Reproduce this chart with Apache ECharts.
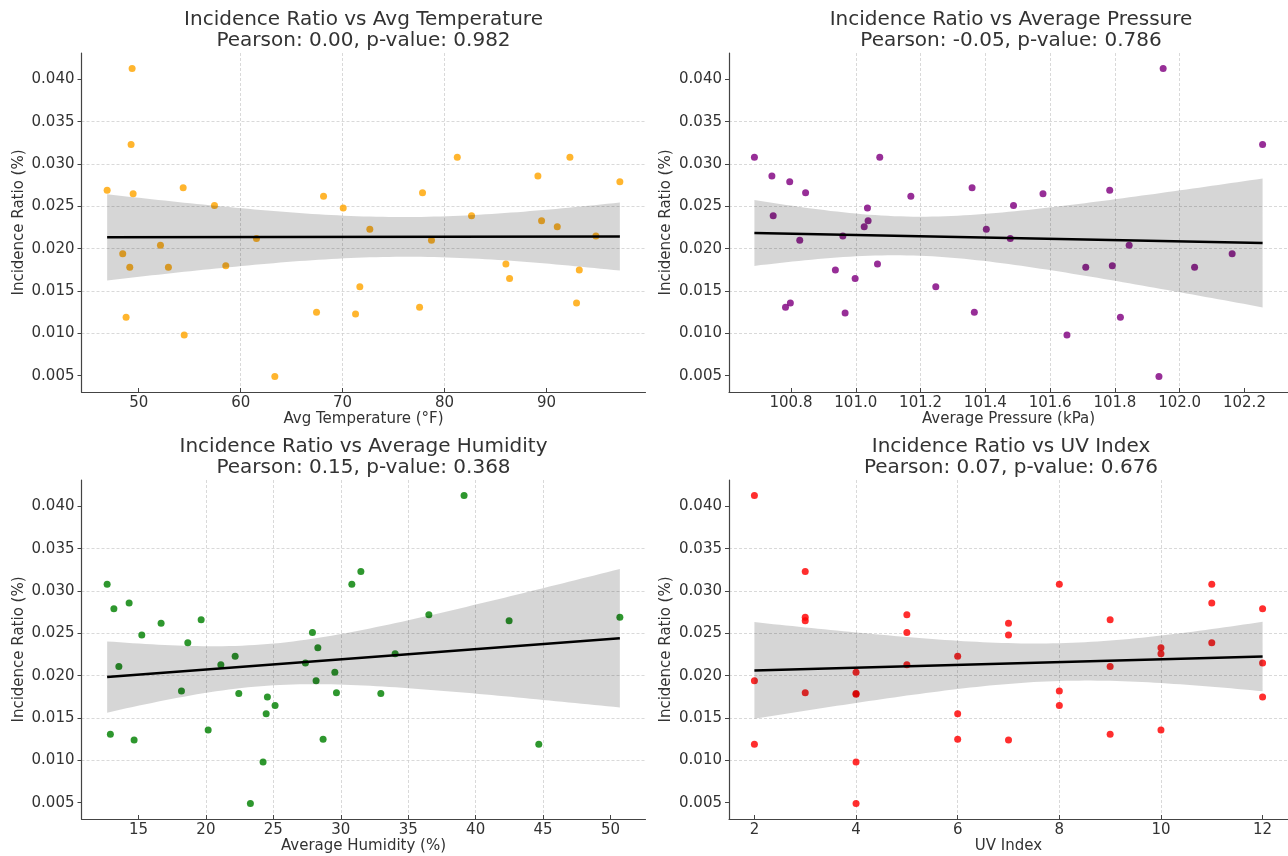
<!DOCTYPE html>
<html><head><meta charset="utf-8">
<script src="https://cdn.jsdelivr.net/npm/echarts@6/dist/echarts.min.js"></script>
<style>html,body{margin:0;padding:0;background:#fff}#c{width:1288px;height:856px}</style>
</head><body><div id="c"></div>
<script>
// ---- data ----
const tempX = [49.35,49.25,46.9,49.45,54.36,57.43,68.13,70.06,72.67,61.55,52.13,48.43,49.12,52.91,58.54,71.69,48.76,67.44,71.27,54.46,63.35,81.25,92.3,89.16,97.2,77.84,82.65,89.52,91.06,78.72,94.85,86.02,93.22,86.38,77.55,92.95];
const tempY = [0.0413,0.0323,0.0269,0.0265,0.0272,0.0251,0.0262,0.0248,0.0223,0.0212,0.0204,0.0194,0.0178,0.0178,0.0180,0.0155,0.0119,0.0125,0.0123,0.0098,0.0049,0.0308,0.0308,0.0286,0.0279,0.0266,0.0239,0.0233,0.0226,0.0210,0.0215,0.0182,0.0175,0.0165,0.0131,0.0136];
const pressX = [100.687,100.741,100.796,100.845,101.074,101.170,101.359,100.745,101.036,101.038,101.026,101.403,100.827,100.960,100.937,101.067,100.998,101.247,100.783,100.798,100.967,101.366,101.949,102.256,101.578,101.487,101.784,101.477,101.844,101.710,101.792,102.046,102.162,101.817,101.652,101.936];
const pressY = [0.0308,0.0286,0.0279,0.0266,0.0308,0.0262,0.0272,0.0239,0.0248,0.0233,0.0226,0.0223,0.0210,0.0215,0.0175,0.0182,0.0165,0.0155,0.0131,0.0136,0.0124,0.0125,0.0413,0.0323,0.0265,0.0251,0.0269,0.0212,0.0204,0.0178,0.0180,0.0178,0.0194,0.0119,0.0098,0.0049];
const humX = [12.68,13.18,14.31,16.68,19.65,15.25,18.66,13.55,21.11,22.17,27.9,28.3,27.38,29.56,28.17,18.19,22.44,24.56,29.68,25.13,24.47,12.92,14.68,20.17,28.69,24.24,23.3,30.82,31.49,39.14,36.53,42.48,50.69,34.03,32.97,44.68];
const humY = [0.0308,0.0279,0.0286,0.0262,0.0266,0.0248,0.0239,0.0211,0.0213,0.0223,0.0251,0.0233,0.0215,0.0204,0.0194,0.0182,0.0179,0.0175,0.0180,0.0165,0.0155,0.0131,0.0124,0.0136,0.0125,0.0098,0.0049,0.0308,0.0323,0.0413,0.0272,0.0265,0.0269,0.0226,0.0179,0.0119];
const uvX = [2,2,2,3,3,3,3,4,4,4,4,4,5,5,5,6,6,6,7,7,7,8,8,8,9,9,9,10,10,10,11,11,11,12,12,12];
const uvY = [0.0413,0.0194,0.0119,0.0323,0.0269,0.0265,0.0180,0.0204,0.0179,0.0178,0.0098,0.0049,0.0272,0.0251,0.0213,0.0223,0.0155,0.0125,0.0262,0.0248,0.0124,0.0308,0.0182,0.0165,0.0266,0.0211,0.0131,0.0233,0.0226,0.0136,0.0308,0.0286,0.0239,0.0279,0.0215,0.0175];

const yTicks = [0.005,0.010,0.015,0.020,0.025,0.030,0.035,0.040];
const tempTicks = [50,60,70,80,90];
const pressTicks = [100.8,101.0,101.2,101.4,101.6,101.8,102.0,102.2];
const humTicks = [15,20,25,30,35,40,45,50];
const uvTicks = [2,4,6,8,10,12];

const titles = [
  'Incidence Ratio vs Avg Temperature\nPearson: 0.00, p-value: 0.982',
  'Incidence Ratio vs Average Pressure\nPearson: -0.05, p-value: 0.786',
  'Incidence Ratio vs Average Humidity\nPearson: 0.15, p-value: 0.368',
  'Incidence Ratio vs UV Index\nPearson: 0.07, p-value: 0.676'
];
const xNames = ['Avg Temperature (°F)','Average Pressure (kPa)','Average Humidity (%)','UV Index'];
const colors = ['#FFA500','#800080','#008000','#FF0000'];

// ---- helpers ----
// OLS fit with a heteroscedasticity-robust (HC1) 95% confidence band of the mean
function fit(xs, ys){
  const n = xs.length;
  const mx = xs.reduce((a,b)=>a+b,0)/n, my = ys.reduce((a,b)=>a+b,0)/n;
  let sxx=0, sxy=0;
  for (let i=0;i<n;i++){ sxx += (xs[i]-mx)**2; sxy += (xs[i]-mx)*(ys[i]-my); }
  const b = sxy/sxx, a = my - b*mx;
  let m00=0, m01=0, m11=0;
  for (let i=0;i<n;i++){
    const e = ys[i]-a-b*xs[i], d = xs[i]-mx;
    m00 += e*e; m01 += e*e*d; m11 += e*e*d*d;
  }
  const c = n/(n-2);
  const v00 = c*m00/(n*n), v01 = c*m01/(n*sxx), v11 = c*m11/(sxx*sxx);
  const t = 2.032;
  const x0 = Math.min(...xs), x1 = Math.max(...xs);
  const band = [];
  const N = 80;
  for (let k=0;k<=N;k++){
    const x = x0 + (x1-x0)*k/N;
    const d = x - mx;
    const yh = a + b*x;
    const h = t*Math.sqrt(v00 + 2*d*v01 + d*d*v11);
    band.push([x, yh-h, yh+h]);
  }
  return {line: [[x0, a+b*x0],[x1, a+b*x1]], band};
}
function ext(arr){
  const lo = Math.min(...arr), hi = Math.max(...arr), m = (hi-lo)*0.05;
  return [lo-m, hi+m];
}

const panels = [
  {x: tempX, y: tempY, ticks: tempTicks, fmt: v=>String(v)},
  {x: pressX, y: pressY, ticks: pressTicks, fmt: v=>v.toFixed(1)},
  {x: humX, y: humY, ticks: humTicks, fmt: v=>String(v)},
  {x: uvX, y: uvY, ticks: uvTicks, fmt: v=>String(v)}
];
const gridPos = [
  {left: 81.5, top: 53},
  {left: 729, top: 53},
  {left: 81.5, top: 480},
  {left: 729, top: 480}
];
const W = 564, H = 339;
const FONT = 'DejaVu Sans';
const TXT = '#333333';

const grid=[], xAxis=[], yAxis=[], series=[], graphic=[];
panels.forEach((p, i) => {
  grid.push({left: gridPos[i].left, top: gridPos[i].top, width: W, height: H, containLabel: false});
  const xe = ext(p.x), ye = ext(p.y);
  xAxis.push({
    type: 'value', gridIndex: i, min: xe[0], max: xe[1],
    name: xNames[i], nameLocation: 'middle', nameGap: 19,
    nameTextStyle: {fontFamily: FONT, fontSize: 15, color: TXT},
    axisLine: {show: true, onZero: false, lineStyle: {color: '#444', width: 1.2}},
    axisTick: {show: true, inside: true, length: 4, customValues: p.ticks, lineStyle: {color: '#444'}},
    axisLabel: {customValues: p.ticks, formatter: p.fmt, margin: 4, fontFamily: FONT, fontSize: 15, color: TXT},
    splitLine: {show: true, customValues: p.ticks, showMinLine: false, showMaxLine: false, lineStyle: {color: '#cfcfcf', type: [3,2], width: 0.8}}
  });
  yAxis.push({
    type: 'value', gridIndex: i, min: ye[0], max: ye[1],
    name: 'Incidence Ratio (%)', nameLocation: 'middle', nameGap: 55, nameRotate: 90,
    nameTextStyle: {fontFamily: FONT, fontSize: 15, color: TXT},
    axisLine: {show: true, onZero: false, lineStyle: {color: '#444', width: 1.2}},
    axisTick: {show: true, inside: false, length: 4, customValues: yTicks, lineStyle: {color: '#444'}},
    axisLabel: {customValues: yTicks, formatter: v=>v.toFixed(3), margin: 7, fontFamily: FONT, fontSize: 15, color: TXT},
    splitLine: {show: true, customValues: yTicks, showMinLine: false, showMaxLine: false, lineStyle: {color: '#cfcfcf', type: [3,2], width: 0.8}}
  });
  const pts = p.x.map((v, k) => [v, p.y[k]]);
  series.push({
    type: 'scatter', xAxisIndex: i, yAxisIndex: i, data: pts, symbolSize: 7, z: 2,
    itemStyle: {color: colors[i], opacity: 0.82}, silent: true
  });
  const f = fit(p.x, p.y);
  const band = f.band;
  series.push({
    type: 'custom', xAxisIndex: i, yAxisIndex: i, z: 3, silent: true,
    data: band, encode: {x: 0, y: [1, 2]},
    renderItem: function(params, api){
      if (params.dataIndex !== 0) return null;
      const poly = [];
      for (let k=0;k<band.length;k++) poly.push(api.coord([band[k][0], band[k][2]]));
      for (let k=band.length-1;k>=0;k--) poly.push(api.coord([band[k][0], band[k][1]]));
      return {type: 'polygon', shape: {points: poly}, style: {fill: 'rgba(0,0,0,0.16)'}};
    }
  });
  series.push({
    type: 'line', xAxisIndex: i, yAxisIndex: i, z: 4, silent: true,
    data: f.line, showSymbol: false, lineStyle: {color: '#000', width: 2.5}
  });
  const t = titles[i].split('\n');
  const cx = gridPos[i].left + W/2;
  const cy = gridPos[i].top - 33;
  graphic.push({type: 'text', x: cx, y: cy, style: {text: t[0], align: 'center', verticalAlign: 'middle', font: '20px "DejaVu Sans"', fill: TXT}});
  graphic.push({type: 'text', x: cx, y: cy + 21, style: {text: t[1], align: 'center', verticalAlign: 'middle', font: '20px "DejaVu Sans"', fill: TXT}});
});

const chart = echarts.init(document.getElementById('c'), null, {renderer: 'canvas'});
chart.setOption({
  backgroundColor: '#fff', animation: false,
  grid, xAxis, yAxis, series, graphic
});
</script>
</body></html>
